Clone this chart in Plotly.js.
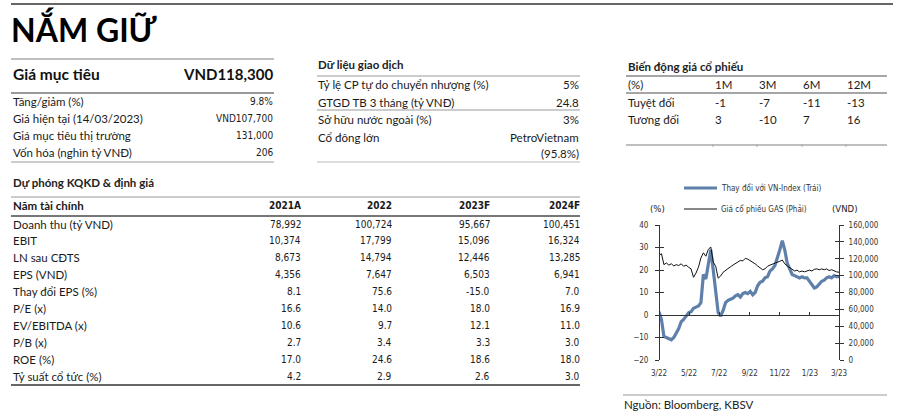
<!DOCTYPE html>
<html><head><meta charset="utf-8">
<script src="https://cdn.plot.ly/plotly-3.0.1.min.js"></script>
<style>html,body{margin:0;padding:0;background:#fff;overflow:hidden}#c{width:901px;height:413px}</style>
</head><body><div id="c"></div><script>
// ---------------- DATA ----------------
const dates = ['2022-03-14','2022-03-19','2022-03-24','2022-03-29','2022-04-03','2022-04-08','2022-04-13','2022-04-18','2022-04-23','2022-04-28',
'2022-05-03','2022-05-08','2022-05-13','2022-05-18','2022-05-23','2022-05-28','2022-06-02','2022-06-07','2022-06-12','2022-06-17',
'2022-06-22','2022-06-27','2022-07-02','2022-07-07','2022-07-12','2022-07-17','2022-07-22','2022-07-27','2022-08-01','2022-08-06',
'2022-08-11','2022-08-16','2022-08-21','2022-08-26','2022-08-31','2022-09-05','2022-09-10','2022-09-15','2022-09-20','2022-09-25',
'2022-09-30','2022-10-05','2022-10-10','2022-10-15','2022-10-20','2022-10-25','2022-10-30','2022-11-04','2022-11-09','2022-11-14',
'2022-11-19','2022-11-24','2022-11-29','2022-12-04','2022-12-09','2022-12-14','2022-12-19','2022-12-24','2022-12-29','2023-01-03',
'2023-01-08','2023-01-13','2023-01-18','2023-01-23','2023-01-28','2023-02-02','2023-02-07','2023-02-12','2023-02-17','2023-02-22',
'2023-02-27','2023-03-04','2023-03-09','2023-03-14'];
const relVNIndex = [1.5,-2,-9.5,-10,-10.5,-11,-10,-8,-6,-3,
-2,-0.5,1,1.5,3,3.5,4,5.5,18,16,
22,29,20,11,1,-0.5,2,5.5,6.5,7,
7.5,8.5,9,8,9.5,10,9.5,10.5,9,10,
13,14.5,15,16.5,17,19.5,20.5,22,25,29,
33,29,23,20,18,17.5,17,16.5,17,16.5,
16.5,15,13.5,12,12.5,14,15,15.5,16.5,17,
16.5,17.5,17,17];
const gasPrice = [124000,126000,113000,115000,112500,114000,111500,113000,112000,114000,
111000,112500,110000,108000,98000,103000,110000,121000,127000,123000,
131000,134000,116000,111000,97000,99500,104000,106500,109000,110500,
112500,114500,116000,118000,117500,120500,119500,118000,116000,114000,
111500,109000,107000,108000,111000,112500,113500,115000,116000,117000,
118500,114000,111500,109500,107000,105500,106500,104500,105500,104500,
105500,106500,105500,107500,108000,107000,108000,107000,108000,106000,
107000,105500,104500,104000];
const xTickVals = ['2022-03-14','2022-05-14','2022-07-14','2022-09-14','2022-11-14','2023-01-14','2023-03-14'];
const xTickText = ['3/22','5/22','7/22','9/22','11/22','1/23','3/23'];
const seriesNames = ['Thay đổi với VN-Index (Trái)','Giá cổ phiếu GAS (Phải)'];

const pageTitle = 'NẮM GIỮ';
const targetLabel = 'Giá mục tiêu', targetValue = 'VND118,300';
const summaryLabels = ['Tăng/giảm (%)','Giá hiện tại (14/03/2023)','Giá mục tiêu thị trường','Vốn hóa (nghìn tỷ VNĐ)'];
const summaryValues = ['9.8%','VND107,700','131,000','206'];
const tradeTitle = 'Dữ liệu giao dịch';
const tradeLabels = ['Tỷ lệ CP tự do chuyển nhượng (%)','GTGD TB 3 tháng (tỷ VNĐ)','Sở hữu nước ngoài (%)','Cổ đông lớn'];
const tradeValues = ['5%','24.8','3%','PetroVietnam'];
const tradeNote = '(95.8%)';
const perfTitle = 'Biến động giá cổ phiếu';
const perfHeader = ['(%)','1M','3M','6M','12M'];
const perfRowLabels = ['Tuyệt đối','Tương đối'];
const perfAbs = ['-1','-7','-11','-13'];
const perfRel = ['3','-10','7','16'];
const finTitle = 'Dự phóng KQKD &amp; định giá';
const finHeadLabel = 'Năm tài chính';
const finYears = ['2021A','2022','2023F','2024F'];
const finLabels = ['Doanh thu (tỷ VND)','EBIT','LN sau CĐTS','EPS (VND)','Thay đổi EPS (%)','P/E (x)','EV/EBITDA (x)','P/B (x)','ROE (%)','Tỷ suất cổ tức (%)'];
const fin2021 = ['78,992','10,374','8,673','4,356','8.1','16.6','10.6','2.7','17.0','4.2'];
const fin2022 = ['100,724','17,799','14,794','7,647','75.6','14.0','9.7','3.4','24.6','2.9'];
const fin2023 = ['95,667','15,096','12,446','6,503','-15.0','18.0','12.1','3.3','18.6','2.6'];
const fin2024 = ['100,451','16,324','13,285','6,941','7.0','16.9','11.0','3.0','18.0','3.0'];
const sourceText = 'Nguồn: Bloomberg, KBSV';
const unitLeft = '(%)', unitRight = '(VND)';

// ---------------- LAYOUT HELPERS ----------------
const W = 901, H = 413;
const X = p => p / W, Y = p => 1 - p / H;
const LBL = 'Lato, Carlito, "Noto Sans", sans-serif';
const NUM = '"DejaVu Sans Condensed", "DejaVu Sans", sans-serif';
const annotations = [], shapes = [];
function T(text, x, y, o = {}) {
  annotations.push({text, x: X(x), y: Y(y), xref: 'paper', yref: 'paper', showarrow: false,
    xanchor: o.a || 'left', yanchor: 'middle', borderpad: 0,
    font: {family: o.f || LBL, size: o.s || 11, color: o.c || '#1a1a1a', weight: o.w || 400}});
}
function L(x0, x1, y, c, w) {
  shapes.push({type: 'line', xref: 'paper', yref: 'paper', x0: X(x0), x1: X(x1), y0: Y(y), y1: Y(y), line: {color: c, width: w}});
}
function V(x, y0, y1, c, w) {
  shapes.push({type: 'line', xref: 'paper', yref: 'paper', x0: X(x), x1: X(x), y0: Y(y0), y1: Y(y1), line: {color: c, width: w}});
}

// Title
L(11, 893, 4, '#333', 1.5);
T(pageTitle, 10, 28, {s: 32, w: 700, c: '#000'});

// Target block
L(11, 274, 59, '#aaa', 1.5);
T(targetLabel, 12, 74, {s: 15.5, w: 700, c: '#111'});
T(targetValue, 274, 74, {s: 15, w: 700, c: '#111', a: 'right'});
L(11, 274, 93, '#777', 1.5);
summaryLabels.forEach((t, i) => T(t, 12, 101 + i * 17, {s: 11.5}));
summaryValues.forEach((t, i) => T(t, 274, 101 + i * 17, {s: 10, f: NUM, a: 'right'}));
L(11, 274, 162, '#999', 1.2);

// Trade block
T(tradeTitle, 317, 65, {s: 11.5, w: 700, c: '#222'});
L(317, 580, 76, '#999', 1.2);
const tradeY = [84, 102, 119, 137];
tradeLabels.forEach((t, i) => T(t, 317, tradeY[i], {s: 11.5}));
tradeValues.forEach((t, i) => T(t, 580, tradeY[i], {s: 11.5, a: 'right'}));
T(tradeNote, 580, 153, {s: 11.5, a: 'right'});
L(317, 580, 110, '#999', 1);
L(317, 580, 162, '#bbb', 1.2);

// Performance block
T(perfTitle, 627, 66, {s: 11.5, w: 700, c: '#222'});
L(626, 887, 76, '#888', 1.5);
const perfX = [627, 714, 758, 802, 846];
perfHeader.forEach((t, i) => T(t, perfX[i], 84, {s: 11.5}));
L(626, 887, 93, '#888', 1.5);
T(perfRowLabels[0], 627, 102, {s: 11.5});
T(perfRowLabels[1], 627, 119, {s: 11.5});
perfAbs.forEach((t, i) => T(t, perfX[i + 1], 102, {s: 11.5}));
perfRel.forEach((t, i) => T(t, perfX[i + 1], 119, {s: 11.5}));
L(626, 887, 145, '#aaa', 1.5);
[713, 757, 802, 846].forEach(x => V(x, 144, 147, '#aaa', 1));

// Financial table
T(finTitle, 12, 183, {s: 11.5, w: 700, c: '#222'});
L(11, 580, 197, '#999', 1.2);
T(finHeadLabel, 12, 205, {s: 11.5, w: 700});
const finX = [302, 393, 491, 581];
finYears.forEach((t, i) => T(t, finX[i], 205, {s: 10, f: NUM, w: 700, a: 'right'}));
L(11, 580, 216, '#777', 1.8);
const finCols = [fin2021, fin2022, fin2023, fin2024];
finLabels.forEach((t, r) => {
  const y = 224 + r * 16.9;
  T(t, 12, y, {s: 11.5});
  finCols.forEach((col, c) => T(col[r], finX[c], y, {s: 10, f: NUM, a: 'right'}));
});
L(11, 580, 385, '#333', 1.5);

// Chart legend & units
shapes.push({type: 'line', xref: 'paper', yref: 'paper', x0: X(684), x1: X(717), y0: Y(188), y1: Y(188), line: {color: '#5F80AA', width: 3}});
shapes.push({type: 'line', xref: 'paper', yref: 'paper', x0: X(684), x1: X(717), y0: Y(209), y1: Y(209), line: {color: '#111', width: 1}});
T(seriesNames[0], 720, 188, {s: 8, f: NUM, c: '#333'});
T(seriesNames[1], 720, 209, {s: 8, f: NUM, c: '#333'});
T(unitLeft, 657, 209, {s: 9.5, f: NUM, c: '#222', a: 'center'});
T(unitRight, 845, 209, {s: 9.5, f: NUM, c: '#222', a: 'center'});

// Source
L(623, 887, 395, '#bbb', 1.5);
T(sourceText, 623, 404, {s: 11.5, c: '#222'});

// ---------------- CHART ----------------
const tf = {family: NUM, size: 8, color: '#333'};
const dom = [Y(360), Y(225)];
const traces = [
  {type: 'scatter', mode: 'lines', x: dates, y: relVNIndex, xaxis: 'x', yaxis: 'y', name: seriesNames[0],
   line: {color: '#5F80AA', width: 3.2}, hoverinfo: 'skip'},
  {type: 'scatter', mode: 'lines', x: dates, y: gasPrice, xaxis: 'x', yaxis: 'y2', name: seriesNames[1],
   line: {color: '#111', width: 1}, hoverinfo: 'skip'},
  {type: 'scatter', mode: 'lines', x: xTickVals, y: xTickVals.map(() => null), xaxis: 'x2', yaxis: 'y3', hoverinfo: 'skip', showlegend: false},
  {type: 'scatter', mode: 'lines', x: xTickVals, y: xTickVals.map(() => null), xaxis: 'x', yaxis: 'y4', hoverinfo: 'skip', showlegend: false}
];
const xRange = [dates[0], dates[dates.length - 1]];
const layout = {
  width: W, height: H, margin: {l: 0, r: 0, t: 0, b: 0},
  paper_bgcolor: '#fff', plot_bgcolor: 'rgba(0,0,0,0)', showlegend: false,
  xaxis: {type: 'date', range: xRange, domain: [X(659), X(839)], anchor: 'free', position: Y(314.5),
    showline: true, linecolor: '#333', linewidth: 1, ticks: 'inside', ticklen: 3, tickcolor: '#333',
    tickvals: xTickVals, showticklabels: false, showgrid: false, zeroline: false},
  xaxis2: {type: 'date', range: xRange, domain: [X(659), X(839)], overlaying: 'x', anchor: 'y', side: 'bottom',
    showline: false, ticks: '', tickvals: xTickVals, ticktext: xTickText, tickfont: tf, ticklabelstandoff: 7,
    showgrid: false, zeroline: false},
  yaxis: {domain: dom, range: [-20, 40], tick0: 0, dtick: 10, anchor: 'free', position: X(659),
    showline: true, linecolor: '#333', linewidth: 1, ticks: 'outside', ticklen: 4, tickcolor: '#333',
    tickfont: tf, ticklabelstandoff: 5, showgrid: false, zeroline: false},
  yaxis2: {domain: dom, range: [0, 160000], dtick: 20000, tickformat: ',', overlaying: 'y', side: 'right', anchor: 'free', position: X(839),
    showline: true, linecolor: '#333', linewidth: 1, ticks: 'outside', ticklen: 4, tickcolor: '#333',
    tickfont: tf, ticklabelstandoff: 3, showgrid: false, zeroline: false},
  yaxis3: {domain: dom, range: [-20, 40], tick0: 0, dtick: 10, overlaying: 'y', side: 'left', anchor: 'free', position: X(659),
    showline: false, ticks: 'inside', ticklen: 4, tickcolor: '#333', showticklabels: false, showgrid: false, zeroline: false},
  yaxis4: {domain: dom, range: [0, 160000], dtick: 20000, overlaying: 'y', side: 'right', anchor: 'free', position: X(839),
    showline: false, ticks: 'inside', ticklen: 4, tickcolor: '#333', showticklabels: false, showgrid: false, zeroline: false},
  annotations, shapes
};
Plotly.newPlot('c', traces, layout, {staticPlot: true, displayModeBar: false});
</script></body></html>
